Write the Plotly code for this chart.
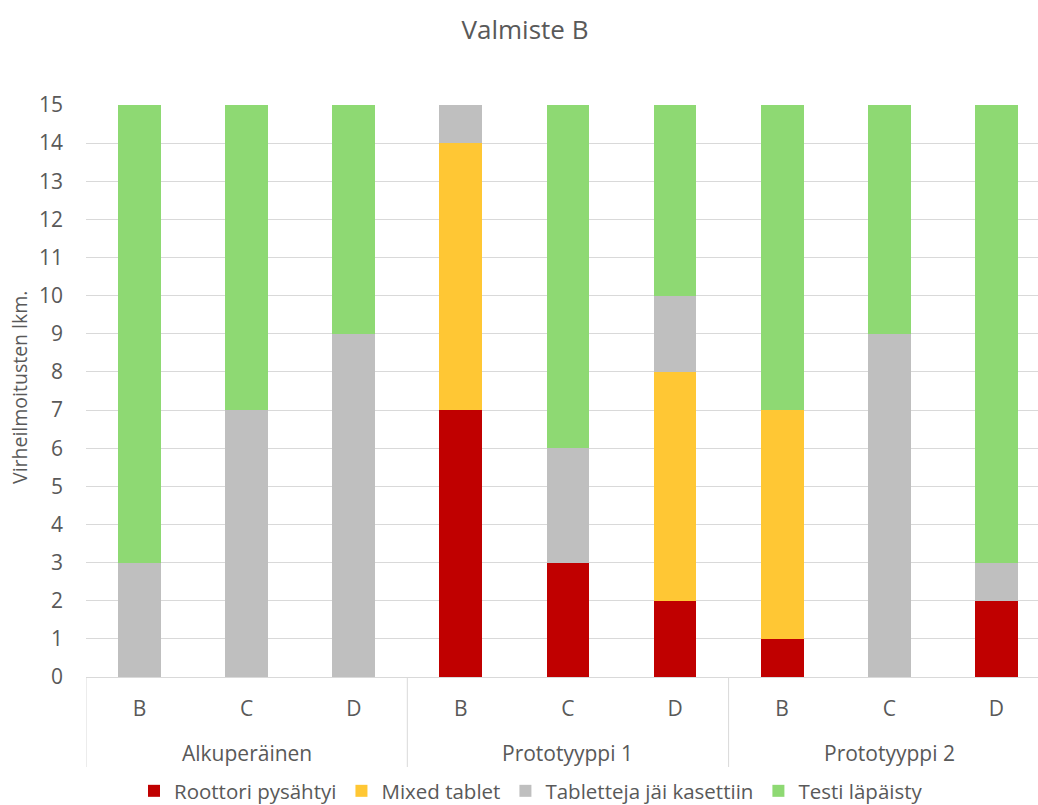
import plotly.graph_objects as go

# Test groups and the variants inside each group
groups = ["Alkuperäinen", "Prototyyppi 1", "Prototyyppi 2"]
variants = ["B", "C", "D"]

# Error-message counts per variant (stacked, each bar totals 15)
roottori = [0, 0, 0, 7, 3, 2, 1, 0, 2]
mixed = [0, 0, 0, 7, 0, 6, 6, 0, 0]
tabletteja = [3, 7, 9, 1, 3, 2, 0, 9, 1]
testi = [12, 8, 6, 0, 9, 5, 8, 6, 12]

series_names = ["Roottori pysähtyi", "Mixed tablet", "Tabletteja jäi kasettiin", "Testi läpäisty"]
series_colors = ["#C00000", "#FFC734", "#BFBFBF", "#8ED973"]
y_ticks = list(range(0, 16))

TEXT = "#595959"
GRID = "#D9D9D9"
FONT = "Open Sans"

x_labels = [v for g in groups for v in variants]
x_pos = list(range(len(x_labels)))

fig = go.Figure()
for name, vals, col in zip(series_names, [roottori, mixed, tabletteja, testi], series_colors):
    fig.add_trace(go.Bar(
        x=x_pos, y=vals, name=name, width=0.4,
        marker=dict(color=col, line=dict(width=0)),
    ))

W, H = 1038, 805
ml, mt, mb = 86, 105, 128
plot_w = W - ml
unit_px = 107.1
x_right = -0.5 + plot_w / unit_px
plot_h = H - mt - mb

# group separators and group captions below the category labels
n = len(variants)
for i in range(len(groups) + 1):
    fig.add_shape(type="line", xref="x", yref="paper",
                  x0=i * n - 0.5, x1=i * n - 0.5, y0=0, y1=-90 / plot_h,
                  line=dict(color=GRID, width=1))
for i, g in enumerate(groups):
    fig.add_annotation(x=i * n + (n - 1) / 2, y=-76 / plot_h, xref="x", yref="paper",
                       text=g, showarrow=False, yanchor="middle",
                       font=dict(family=FONT, size=21, color=TEXT))

# y-axis title
fig.add_annotation(x=-67 / plot_w, y=(677 - 388) / plot_h, xref="paper", yref="paper",
                   text="Virheilmoitusten lkm.", textangle=-90, showarrow=False,
                   xanchor="center", yanchor="middle",
                   font=dict(family=FONT, size=19.5, color=TEXT))

fig.update_layout(
    width=W, height=H,
    margin=dict(l=ml, r=0, t=mt, b=mb, pad=0),
    barmode="stack",
    paper_bgcolor="white", plot_bgcolor="white",
    font=dict(family=FONT, color=TEXT),
    title=dict(text="Valmiste B", x=525 / W, xref="container", xanchor="center",
               y=1 - 30 / H, yref="container", yanchor="middle",
               font=dict(family=FONT, size=26, color=TEXT)),
    xaxis=dict(range=[-0.5, x_right], tickvals=x_pos, ticktext=x_labels,
               showgrid=False, zeroline=False, showline=True, linecolor=GRID, linewidth=1,
               ticks="", ticklabelstandoff=13,
               tickfont=dict(family=FONT, size=21, color=TEXT)),
    yaxis=dict(range=[0, 15], tickvals=y_ticks, showgrid=True, gridcolor=GRID, gridwidth=1,
               zeroline=False, showline=False, ticks="", ticklabelstandoff=22,
               tickfont=dict(family=FONT, size=21, color=TEXT)),
    legend=dict(orientation="h", x=(531 - ml) / plot_w, xanchor="center",
                y=1 - 791 / H, yref="container", yanchor="middle",
                font=dict(family=FONT, size=20.5, color=TEXT), traceorder="normal",
                itemwidth=30),
    showlegend=True,
)

fig.write_html("out.html")
